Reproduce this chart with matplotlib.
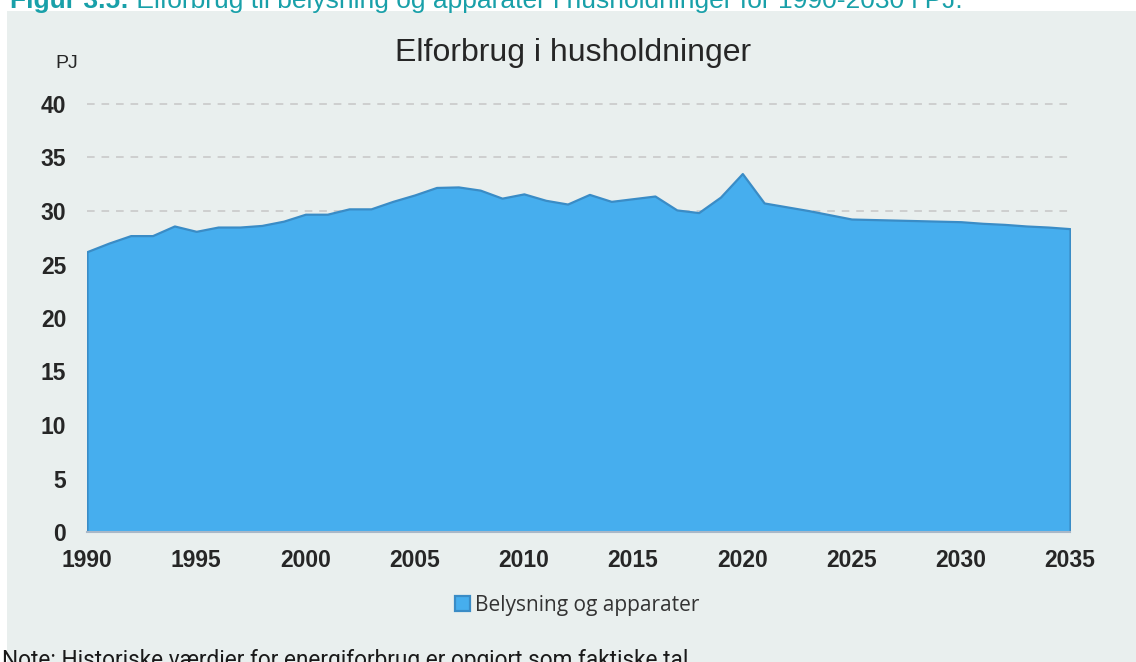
import matplotlib
matplotlib.use("Agg")
import matplotlib.pyplot as plt
from matplotlib.patches import Rectangle

years = list(range(1990, 2036))
belysning = [26.2, 27.0, 27.7, 27.7, 28.6, 28.1, 28.5, 28.5, 28.65, 29.05,
             29.7, 29.7, 30.2, 30.2, 30.9, 31.5, 32.2, 32.25, 31.95, 31.2,
             31.6, 31.0, 30.65, 31.55, 30.9, 31.15, 31.4, 30.1, 29.85, 31.3,
             33.5, 30.75, 30.4, 30.05, 29.65, 29.25, 29.2, 29.15, 29.1, 29.05,
             29.0, 28.85, 28.75, 28.6, 28.5, 28.35]
yticks = [0, 5, 10, 15, 20, 25, 30, 35, 40]
xticks = [1990, 1995, 2000, 2005, 2010, 2015, 2020, 2025, 2030, 2035]

caption_bold = "Figur 3.5:"
caption = " Elforbrug til belysning og apparater i husholdninger for 1990-2030 i PJ."
title = "Elforbrug i husholdninger"
series_name = "Belysning og apparater"
note = "Note: Historiske værdier for energiforbrug er opgjort som faktiske tal"

W, H = 1136, 662
fig = plt.figure(figsize=(W / 100, H / 100), dpi=100)
fig.patch.set_facecolor("white")

# grey panel behind chart
fig.patches.append(Rectangle((7 / W, 0), 1 - 7 / W, 1 - 11 / H, transform=fig.transFigure,
                             facecolor="#E9EFEE", edgecolor="none", zorder=-5))

# caption at the very top, cut off by the image edge
t = fig.text(10 / W, 1 - 8 / H, caption_bold, color="#19A0A9", fontsize=19,
             fontweight="bold", family="Liberation Sans", va="baseline")
fig.canvas.draw()
bb = t.get_window_extent()
fig.text(bb.x1 / W, 1 - 8 / H, caption, color="#19A0A9", fontsize=19,
         family="Liberation Sans", va="baseline")

ax = fig.add_axes([87 / W, 1 - 532 / H, (1070 - 87) / W, (532 - 104) / H])
ax.set_zorder(1)
ax.set_facecolor("none")

for y in yticks[1:]:
    ax.axhline(y, color="#C6C6C6", lw=1.1, ls=(0, (5, 4.5)), zorder=0.5, clip_on=False)

ax.fill_between(years, belysning, 0, facecolor="#46AEEE", edgecolor="#3A8CC6",
                linewidth=1.6, zorder=1, label=series_name)

ax.set_xlim(1990, 2035)
ax.set_ylim(0, 40)
ax.set_xticks(xticks)
ax.set_yticks(yticks)
ax.tick_params(length=0, labelsize=16.5, colors="#262626")
ax.tick_params(axis="y", pad=15)
ax.tick_params(axis="x", pad=12)
for lab in ax.get_xticklabels() + ax.get_yticklabels():
    lab.set_fontweight("bold")
    lab.set_family("Liberation Sans")

for s in ["top", "right", "left"]:
    ax.spines[s].set_visible(False)
ax.spines["bottom"].set_color("#A9B8C8")
ax.spines["bottom"].set_linewidth(1.5)

fig.text(573 / W, 1 - 61 / H, title, fontsize=23, family="Liberation Sans",
         color="#262626", ha="center", va="baseline")
fig.text(55 / W, 1 - 63 / H, "PJ", fontsize=14, family="Liberation Sans",
         color="#262626", va="center")

leg = fig.legend(loc="center", bbox_to_anchor=(577 / W, 1 - 605 / H), frameon=False,
                 prop={"family": "Open Sans", "size": 15}, handlelength=0.7,
                 handleheight=0.7, handletextpad=0.25)
for txt in leg.get_texts():
    txt.set_color("#333333")

fig.text(2 / W, 1 - 661 / H, note, fontsize=16.3, family="Roboto", color="#1A1A1A",
         va="center")

fig.savefig("out.png", dpi=100)
